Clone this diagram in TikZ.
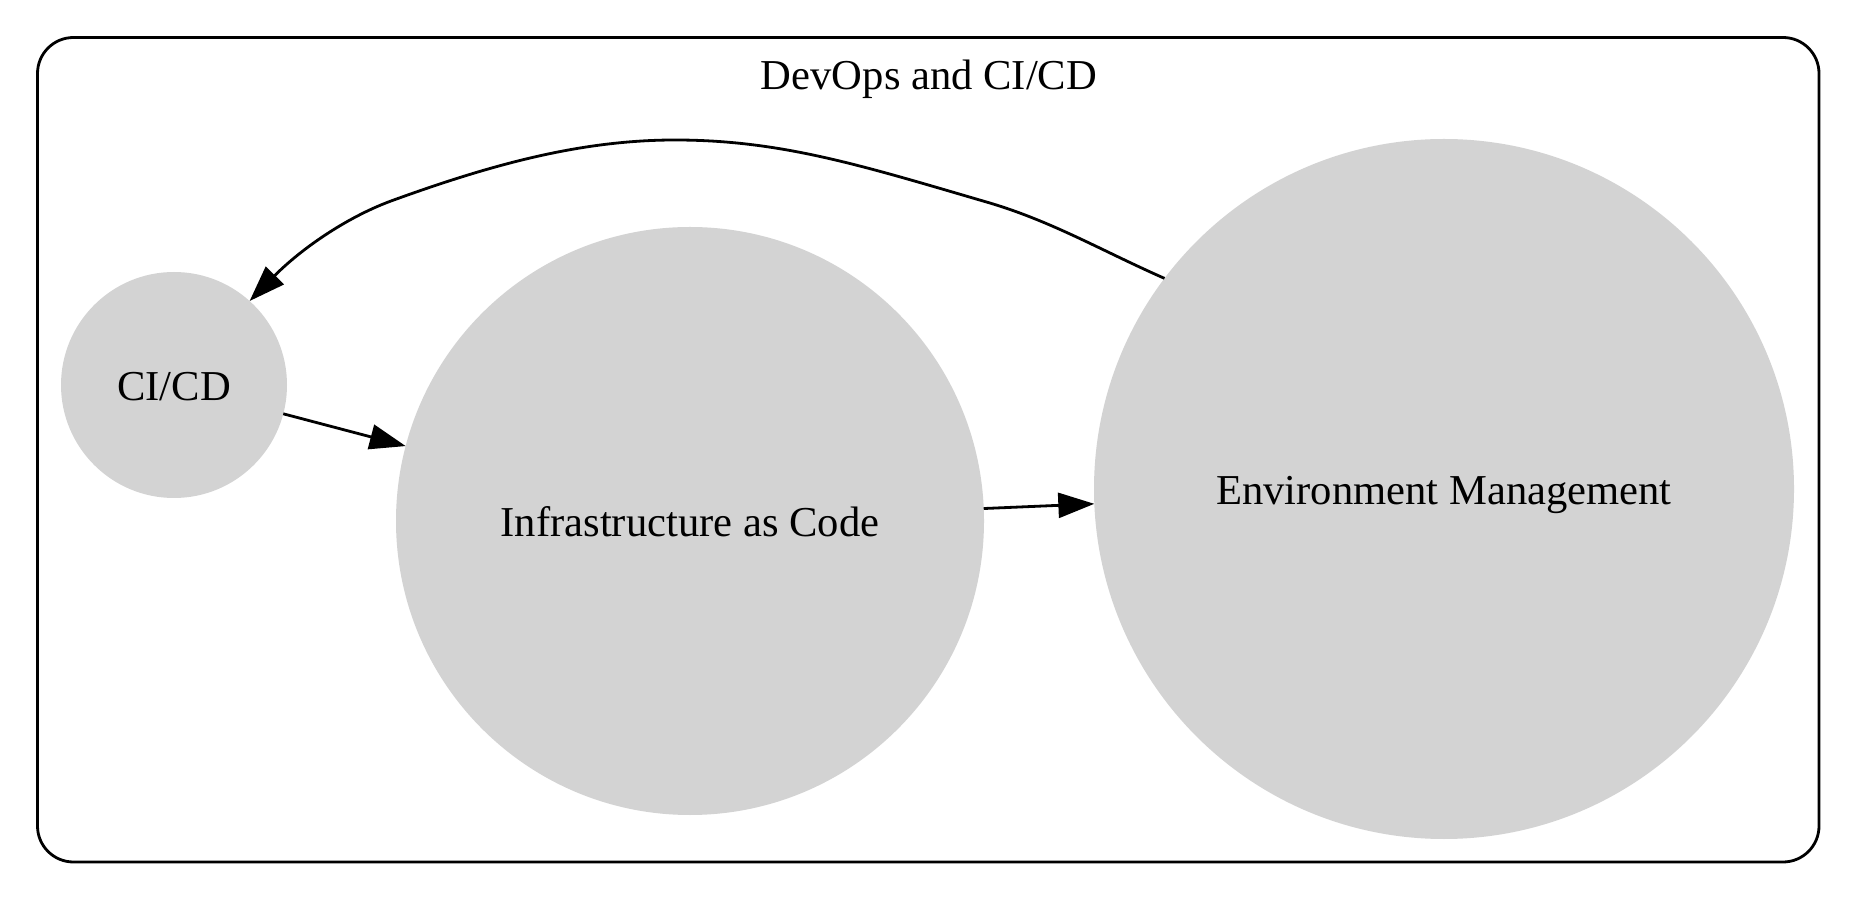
\documentclass[tikz,border=0pt]{standalone}
\usepackage{fontspec}
\setmainfont{Liberation Serif}
\usetikzlibrary{arrows.meta}
\definecolor{nodegray}{HTML}{D3D3D3}
\begin{document}
\begin{tikzpicture}[x=1pt,y=1pt,
        blob/.style={circle,fill=nodegray,draw=none,inner sep=0pt,
            outer sep=0pt,text height=40pt,text depth=8pt,
            font=\fontsize{42.6}{50}\selectfont},
        link/.style={line width=2.8pt,-{Triangle[length=36pt,width=25pt]}}]
    \useasboundingbox (0,0) rectangle (1857,900);
    \draw[line width=2.8pt, rounded corners=36pt] (37.5,38) rectangle (1819,862.5);
    \node[anchor=base, font=\fontsize{42.6}{50}\selectfont] (title) at (929,810) {DevOps and CI/CD};
    \node[blob, minimum size=226pt] (cicd) at (174,515) {CI/CD};
    \node[blob, minimum size=588pt] (iac) at (690,379) {Infrastructure as Code};
    \node[blob, minimum size=700pt] (env) at (1444,411) {Environment Management};
	\draw[link] (cicd) -- (iac);
	\draw[link] (iac) -- (env);
	\draw[link] (env.143.5) .. controls (1100,650) and (1050,680) .. (983,699)
	    .. controls (860,735) and (780,760) .. (675,760)
	    .. controls (580,760) and (490,735) .. (391,699)
	    .. controls (345,682) and (300,650) .. (cicd.48);
\end{tikzpicture}
\end{document}
